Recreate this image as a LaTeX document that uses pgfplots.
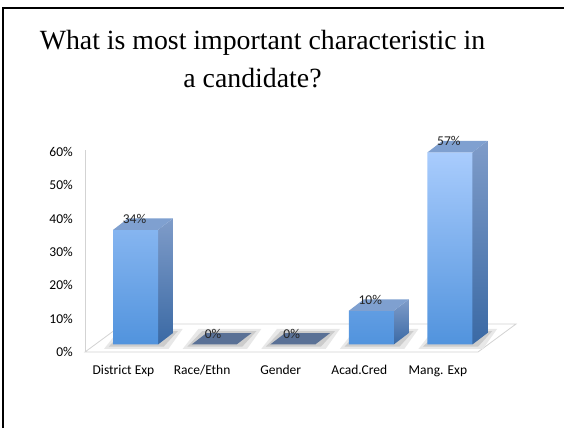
\documentclass[border=0pt]{standalone}
\usepackage{pgfplots}
\usepackage{pgfplotstable}
\pgfplotsset{compat=1.18}
\usepackage{fontspec}
\setmainfont{Carlito}
\newfontfamily\titlefont{Liberation Serif}
\definecolor{frontTop}{HTML}{A9CCFD}
\definecolor{frontBot}{HTML}{5193DD}
\definecolor{sideTop}{HTML}{7F9CC9}
\definecolor{sideBot}{HTML}{3A69A4}
\definecolor{topFace}{HTML}{7FA0D0}
\definecolor{flatBar}{HTML}{5A7196}
\definecolor{floorLine}{HTML}{D3D3D3}

\pgfplotstableread{
x v
0 34
1 0
2 0
3 10
4 57
}\datatable

\begin{document}
\begin{tikzpicture}
\path[use as bounding box] (0pt,0pt) rectangle (564pt,428pt);
\fill[white] (0pt,0pt) rectangle (564pt,428pt);
\draw[line width=2.5pt] (3pt,0pt) -- (3pt,420pt) -- (564pt,420pt);
\node[font=\titlefont\fontsize{27.8}{33}\selectfont, anchor=base, inner sep=0pt] at (262.5pt,378pt) {What is most important characteristic in};
\node[font=\titlefont\fontsize{27.8}{33}\selectfont, anchor=base, inner sep=0pt] at (252.5pt,340pt) {a candidate?};

\begin{axis}[
  at={(85pt,76pt)}, anchor=south west,
  scale only axis, width=393pt, height=202pt,
  xmin=-0.6425, xmax=4.3575, ymin=-2.226, ymax=57.72,
  clip=false,
  axis lines*=left,
  x axis line style={draw=none},
  y axis line style={draw=floorLine, line width=0.8pt},
  major tick length=0pt,
  xtick={0,1,2,3,4},
  xticklabels={District Exp, Race/Ethn, Gender, Acad.Cred, Mang. Exp},
  xticklabel style={anchor=base, inner sep=0pt, xshift=-12pt, yshift=-22.5pt},
  ytick={-2.226,7.665,17.556,27.447,37.338,47.229,57.12},
  yticklabels={0\%,10\%,20\%,30\%,40\%,50\%,60\%},
  yticklabel style={anchor=east, inner sep=0pt, xshift=-12pt},
  tick label style={font=\fontsize{13.5}{16}\selectfont},
  /pgf/number format/assume math mode=true,
]
% floor
\addplot[fill=white, draw=floorLine, line width=0.8pt] coordinates {(-0.6425,-2.226) (4.3575,-2.226) (4.841,6.08) (-0.159,6.08)} -- cycle;

% shadows
\addplot[fill=gray!18, draw=none] coordinates {(-0.40,-1.3) (0.42,-1.3) (0.60,4.6) (-0.20,4.6)} -- cycle;
\addplot[fill=gray!18, draw=none] coordinates {(0.60,-1.3) (1.42,-1.3) (1.60,4.6) (0.80,4.6)} -- cycle;
\addplot[fill=gray!18, draw=none] coordinates {(1.60,-1.3) (2.42,-1.3) (2.60,4.6) (1.80,4.6)} -- cycle;
\addplot[fill=gray!18, draw=none] coordinates {(2.60,-1.3) (3.42,-1.3) (3.60,4.6) (2.80,4.6)} -- cycle;
\addplot[fill=gray!18, draw=none] coordinates {(3.60,-1.3) (4.42,-1.3) (4.60,4.6) (3.80,4.6)} -- cycle;
\addplot[fill=gray!40, draw=none] coordinates {(-0.34,-0.6) (0.36,-0.6) (0.54,4.0) (-0.15,4.0)} -- cycle;
\addplot[fill=gray!40, draw=none] coordinates {(0.66,-0.6) (1.36,-0.6) (1.54,4.0) (0.85,4.0)} -- cycle;
\addplot[fill=gray!40, draw=none] coordinates {(1.66,-0.6) (2.36,-0.6) (2.54,4.0) (1.85,4.0)} -- cycle;
\addplot[fill=gray!40, draw=none] coordinates {(2.66,-0.6) (3.36,-0.6) (3.54,4.0) (2.85,4.0)} -- cycle;
\addplot[fill=gray!40, draw=none] coordinates {(3.66,-0.6) (4.36,-0.6) (4.54,4.0) (3.85,4.0)} -- cycle;

% flat (zero) bars
\addplot[fill=flatBar, draw=none] coordinates {(0.714,0) (1.286,0) (1.477,3.41) (0.905,3.41)} -- cycle;
\addplot[fill=flatBar, draw=none] coordinates {(1.714,0) (2.286,0) (2.477,3.41) (1.905,3.41)} -- cycle;

% side faces
\addplot[draw=none, top color=sideTop, bottom color=sideBot] coordinates {(0.286,0) (0.477,3.41) (0.477,37.41) (0.286,34)} -- cycle;
\addplot[draw=none, top color=sideTop, bottom color=sideBot] coordinates {(3.286,0) (3.477,3.41) (3.477,13.41) (3.286,10)} -- cycle;
\addplot[draw=none, top color=sideTop, bottom color=sideBot] coordinates {(4.286,0) (4.477,3.41) (4.477,60.41) (4.286,57)} -- cycle;

% front faces
\addplot[ybar, bar width=45pt, draw=none, top color=frontTop, bottom color=frontBot, restrict y to domain=0.5:100] table[x=x, y=v] \datatable;

% top faces
\addplot[fill=topFace, draw=none] coordinates {(-0.286,34) (0.286,34) (0.477,37.41) (-0.095,37.41)} -- cycle;
\addplot[fill=topFace, draw=none] coordinates {(2.714,10) (3.286,10) (3.477,13.41) (2.905,13.41)} -- cycle;
\addplot[fill=topFace, draw=none] coordinates {(3.714,57) (4.286,57) (4.477,60.41) (3.905,60.41)} -- cycle;

% value labels
\addplot[draw=none, mark=none, point meta=y,
  nodes near coords={\pgfmathprintnumber{\pgfplotspointmeta}\%},
  every node near coord/.append style={anchor=center, yshift=11pt, xshift=-1pt, inner sep=0pt, text=black!85, font=\fontsize{13.5}{16}\selectfont}]
  table[x=x, y=v] \datatable;
\end{axis}
\end{tikzpicture}
\end{document}
